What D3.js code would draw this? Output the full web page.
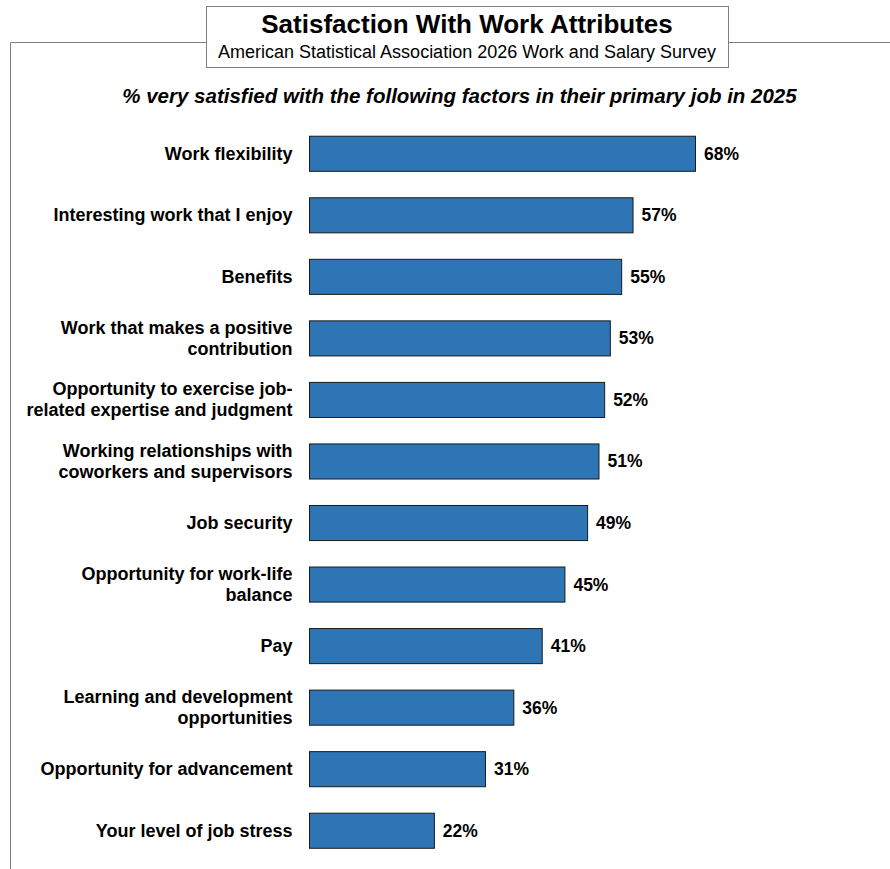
<!DOCTYPE html>
<html>
<head>
<meta charset="utf-8">
<script src="https://cdn.jsdelivr.net/npm/d3@7"></script>
<style>
  body { margin: 0; background: #fff; }
  svg { font-family: "Liberation Sans", Arial, sans-serif; }
</style>
</head>
<body>
<svg id="chart" width="890" height="869"></svg>
<script>
// data
const categories = [
  ["Work flexibility"],
  ["Interesting work that I enjoy"],
  ["Benefits"],
  ["Work that makes a positive", "contribution"],
  ["Opportunity to exercise job-", "related expertise and judgment"],
  ["Working relationships with", "coworkers and supervisors"],
  ["Job security"],
  ["Opportunity for work-life", "balance"],
  ["Pay"],
  ["Learning and development", "opportunities"],
  ["Opportunity for advancement"],
  ["Your level of job stress"]
];
const values = [68, 57, 55, 53, 52, 51, 49, 45, 41, 36, 31, 22];

const svg = d3.select("#chart");

// frame lines
svg.append("path")
  .attr("d", "M10.5,869 L10.5,42.5 L890,42.5")
  .attr("fill", "none")
  .attr("stroke", "#808080")
  .attr("stroke-width", 1);

// title box
svg.append("rect")
  .attr("x", 206.5).attr("y", 6.5)
  .attr("width", 522).attr("height", 61)
  .attr("fill", "#fff")
  .attr("stroke", "#808080");

svg.append("text")
  .attr("x", 467).attr("y", 33)
  .attr("text-anchor", "middle")
  .attr("font-size", 26).attr("font-weight", "bold")
  .text("Satisfaction With Work Attributes");

svg.append("text")
  .attr("x", 467).attr("y", 58)
  .attr("text-anchor", "middle")
  .attr("font-size", 18)
  .text("American Statistical Association 2026 Work and Salary Survey");

svg.append("text")
  .attr("x", 459.5).attr("y", 103)
  .attr("text-anchor", "middle")
  .attr("font-size", 20.5).attr("font-weight", "bold").attr("font-style", "italic")
  .text("% very satisfied with the following factors in their primary job in 2025");

// scales
const x = d3.scaleLinear().domain([0, 100]).range([309, 876.6]);
const y = d3.scaleBand()
  .domain(d3.range(values.length))
  .range([118.5, 865])
  .paddingInner(0.43)
  .paddingOuter(0.28);

const rows = svg.append("g").selectAll("g")
  .data(values)
  .join("g");

rows.append("rect")
  .attr("x", x(0) + 0.5)
  .attr("y", (d, i) => y(i) + 0.5)
  .attr("width", d => x(d) - x(0))
  .attr("height", y.bandwidth())
  .attr("fill", "#2E75B6")
  .attr("stroke", "#1a1a1a")
  .attr("stroke-width", 1);

rows.append("text")
  .attr("x", d => x(d) + 9)
  .attr("y", (d, i) => y(i) + y.bandwidth() / 2 + 6.5)
  .attr("font-size", 17.5).attr("font-weight", "bold")
  .text(d => d + "%");

rows.append("text")
  .attr("text-anchor", "end")
  .attr("font-size", 18).attr("font-weight", "bold")
  .each(function (d, i) {
    const lines = categories[i];
    const cy = y(i) + y.bandwidth() / 2;
    const t = d3.select(this);
    lines.forEach((ln, k) => {
      t.append("tspan")
        .attr("x", 292.5)
        .attr("y", cy + 6.5 + (k - (lines.length - 1) / 2) * 21)
        .text(ln);
    });
  });
</script>
</body>
</html>
